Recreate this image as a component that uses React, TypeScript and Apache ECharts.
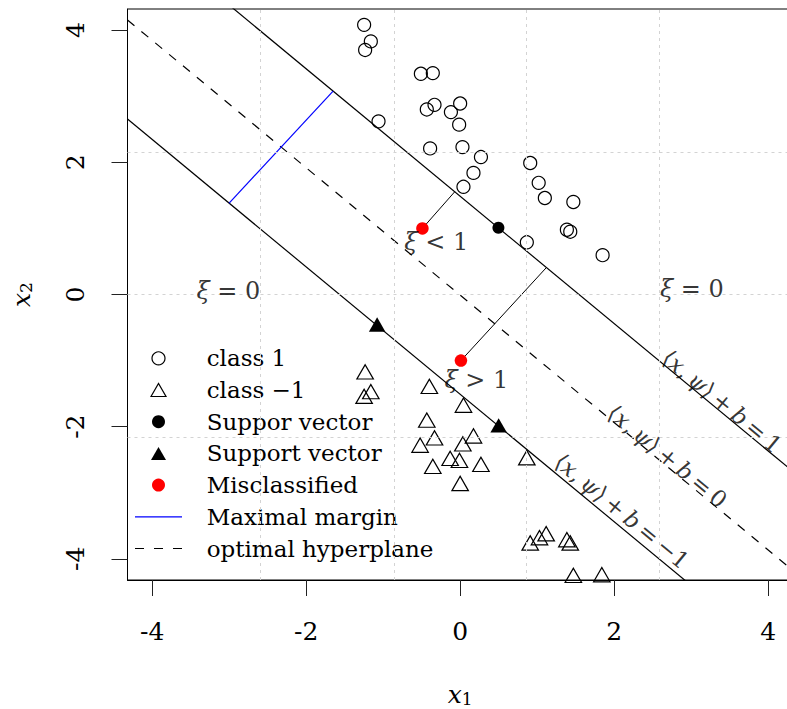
import React, { useEffect, useRef } from "react";
import * as echarts from "echarts";

// ---------- data ----------
const xTicks = [-4, -2, 0, 2, 4];
const yTicks = [-4, -2, 0, 2, 4];
const xRange = [-4.32, 4.32];
const yRange = [-4.32, 4.32];
// R grid(nx = 5, ny = 4): equal divisions of the plot region
const gridLinesX = [-2.592, -0.864, 0.864, 2.592];
const gridLinesY = [-2.16, 0, 2.16];

const class1Points = [
  [-1.247, 4.08], [-1.16, 3.83], [-1.234, 3.7], [-0.51, 3.34], [-0.355, 3.35],
  [-0.333, 2.87], [-0.433, 2.8], [-1.06, 2.62], [-0.12, 2.76], [0.0, 2.89],
  [-0.013, 2.57], [-0.39, 2.21], [0.03, 2.23], [0.27, 2.08], [0.173, 1.84],
  [0.043, 1.63], [0.91, 1.99], [1.02, 1.69], [1.1, 1.46], [1.47, 1.4],
  [1.386, 0.98], [1.43, 0.95], [0.866, 0.79], [1.85, 0.595],
];
const classMinus1Points = [
  [-1.234, -1.17], [-1.16, -1.47], [-1.247, -1.54], [-0.4, -1.39], [0.043, -1.675],
  [-0.433, -1.9], [-0.333, -2.17], [-0.52, -2.28], [0.173, -2.14], [0.035, -2.26],
  [-0.13, -2.48], [-0.009, -2.51], [-0.355, -2.6], [0.27, -2.57], [0.0, -2.86],
  [0.866, -2.47], [0.91, -3.76], [1.03, -3.68], [1.117, -3.62], [1.386, -3.71],
  [1.43, -3.76], [1.47, -4.25], [1.84, -4.24],
];
const supportCircles = [[0.497, 1.009]];
const supportTriangles = [[-1.078, -0.454], [0.5, -1.98]];
const misclassified = [[-0.49, 1.0], [0.01, -1.0]];

// hyperplane  x2 = intercept + slope * x1
const hyperplaneSlope = -0.964;
const interceptPlus = 1.488;
const interceptZero = -0.01;
const interceptMinus = -1.51;

const marginSegment = [[-3.0, 1.382], [-1.65, 3.078]];
const slackSegments = [
  [[-0.49, 1.0], [-0.07, 1.555]],
  [[0.01, -1.0], [1.12, 0.408]],
];

const xiLabels = [
  { text: "{i|ξ} = 0", at: [-3.01, 0.06] },
  { text: "{i|ξ} = 0", at: [3.01, 0.09] },
  { text: "{i|ξ} < 1", at: [-0.31, 0.79] },
  { text: "{i|ξ} > 1", at: [0.21, -1.3] },
];
const planeLabels = [
  { text: "⟨{i|x},\u2009{i|ψ}⟩\u2009+\u2009{i|b}\u2009=\u20091", at: [3.4, -1.62] },
  { text: "⟨{i|x},\u2009{i|ψ}⟩\u2009+\u2009{i|b}\u2009=\u20090", at: [2.69, -2.45] },
  { text: "⟨{i|x},\u2009{i|ψ}⟩\u2009+\u2009{i|b}\u2009=\u2009−1", at: [2.1, -3.28] },
];

const legendNames = [
  "class 1",
  "class −1",
  "Suppor vector",
  "Support vector",
  "Misclassified",
  "Maximal margin",
  "optimal hyperplane",
];

// ---------- styles ----------
const FONT = '"DejaVu Serif", "Liberation Serif", serif';
const GRID = { left: 127.5, top: 9, width: 665.3, height: 571 };
const TRI_ICON = "path://M0,14.3L8.25,0L16.5,14.3Z";
const LINE_ICON = "path://M0,0H47V1.2H0Z";
const DASH_ICON = "path://M0,0H9V1.2H0ZM19,0H28V1.2H19ZM38,0H47V1.2H38Z";
const HOLLOW = { color: "rgba(0,0,0,0)", borderColor: "#000", borderWidth: 1.2, opacity: 1 };

const planeEnds = (b: number) => xRange.map((x) => [x, b + hyperplaneSlope * x]);

export default function App() {
  const ref = useRef<HTMLDivElement>(null);

  useEffect(() => {
    if (!ref.current) return;
    const chart = echarts.init(ref.current, null, { renderer: "svg" });

    const pxX = GRID.width / (xRange[1] - xRange[0]);
    const pxY = GRID.height / (yRange[1] - yRange[0]);
    const lineAngle = (Math.atan(hyperplaneSlope * (pxY / pxX)) * 180) / Math.PI;

    const richMath = {
      i: { fontFamily: FONT, fontStyle: "italic", fontSize: 24, color: "#000" },
    };
    const richMathSmall = {
      i: { fontFamily: FONT, fontStyle: "italic", fontSize: 23, color: "#000" },
    };
    const axisNameRich = {
      i: { fontFamily: FONT, fontStyle: "italic", fontSize: 25, lineHeight: 26, color: "#000" },
      s: { fontFamily: FONT, fontSize: 17, lineHeight: 15, verticalAlign: "bottom", color: "#000" },
    };

    const plainLine = (data: number[][], color: string, width: number, type: any = "solid", z = 3) => ({
      type: "line",
      data,
      symbol: "none",
      showSymbol: false,
      silent: true,
      clip: true,
      z,
      lineStyle: { color, width, type },
    });

    const option: any = {
      animation: false,
      backgroundColor: "#fff",
      grid: {
        ...GRID,
        containLabel: false,
        outerBoundsMode: "none",
        show: true,
        borderColor: "#000",
        borderWidth: 1,
        backgroundColor: "transparent",
      },
      xAxis: {
        type: "value",
        min: xRange[0],
        max: xRange[1],
        axisLine: { show: true, onZero: false, lineStyle: { color: "#000", width: 1 } },
        axisTick: { show: true, inside: false, length: 16, customValues: xTicks, lineStyle: { color: "#222", width: 1 } },
        axisLabel: {
          customValues: xTicks,
          margin: 38,
          fontFamily: FONT,
          fontSize: 25,
          lineHeight: 26,
          color: "#000",
          formatter: (v: number) => String(v),
        },
        splitLine: { show: false },
        name: "{i|x}{s|1}",
        nameLocation: "middle",
        nameGap: 101,
        nameTextStyle: { rich: axisNameRich },
      },
      yAxis: {
        type: "value",
        min: yRange[0],
        max: yRange[1],
        axisLine: { show: true, onZero: false, lineStyle: { color: "#000", width: 1 } },
        axisTick: { show: true, inside: false, length: 16, customValues: yTicks, lineStyle: { color: "#222", width: 1 } },
        axisLabel: {
          customValues: yTicks,
          rotate: 90,
          margin: 39,
          fontFamily: FONT,
          fontSize: 25,
          lineHeight: 26,
          color: "#000",
          formatter: (v: number) => String(v),
        },
        splitLine: { show: false },
        name: "{i|x}{s|2}",
        nameLocation: "middle",
        nameRotate: 90,
        nameGap: 93,
        nameTextStyle: { rich: axisNameRich },
      },
      legend: {
        orient: "vertical",
        left: 135,
        top: 345.3,
        padding: 0,
        itemGap: 5.7,
        itemWidth: 47,
        itemHeight: 13,
        selectedMode: false,
        textStyle: { fontFamily: FONT, fontSize: 23, lineHeight: 26, color: "#000", padding: [0, 0, 0, 19.7] },
        data: [
          { name: legendNames[0], icon: "circle", itemStyle: HOLLOW },
          { name: legendNames[1], icon: TRI_ICON, itemStyle: HOLLOW },
          { name: legendNames[2], icon: "circle", itemStyle: { color: "#000", borderWidth: 0, opacity: 1 } },
          { name: legendNames[3], icon: TRI_ICON, itemStyle: { color: "#000", borderWidth: 0, opacity: 1 } },
          { name: legendNames[4], icon: "circle", itemStyle: { color: "#ff0000", borderWidth: 0, opacity: 1 } },
          { name: legendNames[5], icon: LINE_ICON, itemStyle: { color: "#0000ff", borderWidth: 0, opacity: 1 } },
          { name: legendNames[6], icon: DASH_ICON, itemStyle: { color: "#000", borderWidth: 0, opacity: 1 } },
        ],
      },
      series: [
        {
          // R grid() dotted lines
          type: "line",
          data: [],
          silent: true,
          z: 1,
          markLine: {
            silent: true,
            animation: false,
            symbol: ["none", "none"],
            label: { show: false },
            lineStyle: { color: "#d3d3d3", type: [3, 4], width: 1 },
            data: [
              ...gridLinesX.map((x) => ({ xAxis: x })),
              ...gridLinesY.map((y) => ({ yAxis: y })),
            ],
          },
        },
        plainLine(planeEnds(interceptPlus), "#000", 1.2),
        plainLine(planeEnds(interceptMinus), "#000", 1.2),
        { ...plainLine(planeEnds(interceptZero), "#000", 1.2, [9, 9]), name: legendNames[6] },
        { ...plainLine(marginSegment, "#0000ff", 1.2), name: legendNames[5] },
        ...slackSegments.map((seg) => plainLine(seg, "#000", 1)),
        {
          type: "scatter",
          name: legendNames[0],
          data: class1Points,
          symbol: "circle",
          symbolSize: 13,
          itemStyle: HOLLOW,
          silent: true,
          z: 4,
        },
        {
          type: "scatter",
          name: legendNames[1],
          data: classMinus1Points,
          symbol: "triangle",
          symbolSize: [16.5, 14.3],
          itemStyle: HOLLOW,
          silent: true,
          z: 4,
        },
        {
          type: "scatter",
          name: legendNames[2],
          data: supportCircles,
          symbol: "circle",
          symbolSize: 12,
          itemStyle: { color: "#000", opacity: 1 },
          silent: true,
          z: 5,
        },
        {
          type: "scatter",
          name: legendNames[3],
          data: supportTriangles,
          symbol: "triangle",
          symbolSize: [16.5, 14.3],
          itemStyle: { color: "#000", opacity: 1 },
          silent: true,
          z: 5,
        },
        {
          type: "scatter",
          name: legendNames[4],
          data: misclassified,
          symbol: "circle",
          symbolSize: 12.5,
          itemStyle: { color: "#ff0000", opacity: 1 },
          silent: true,
          z: 5,
        },
        {
          type: "scatter",
          data: xiLabels.map((l) => ({ value: l.at, label: { formatter: l.text } })),
          symbolSize: 0,
          silent: true,
          z: 6,
          label: {
            show: true,
            position: "inside",
            align: "center",
            verticalAlign: "middle",
            fontFamily: FONT,
            fontSize: 24,
            color: "#000",
            rich: richMath,
          },
        },
        {
          type: "scatter",
          data: planeLabels.map((l) => ({ value: l.at, label: { formatter: l.text } })),
          symbolSize: 0,
          silent: true,
          z: 6,
          label: {
            show: true,
            position: "inside",
            align: "center",
            verticalAlign: "middle",
            rotate: lineAngle,
            fontFamily: FONT,
            fontSize: 23,
            color: "#000",
            rich: richMathSmall,
          },
        },
      ],
    };

    chart.setOption(option);
    return () => chart.dispose();
  }, []);

  return (
    <div
      ref={ref}
      style={{ position: "absolute", left: 0, top: 0, width: 787, height: 709, background: "#fff" }}
    />
  );
}
